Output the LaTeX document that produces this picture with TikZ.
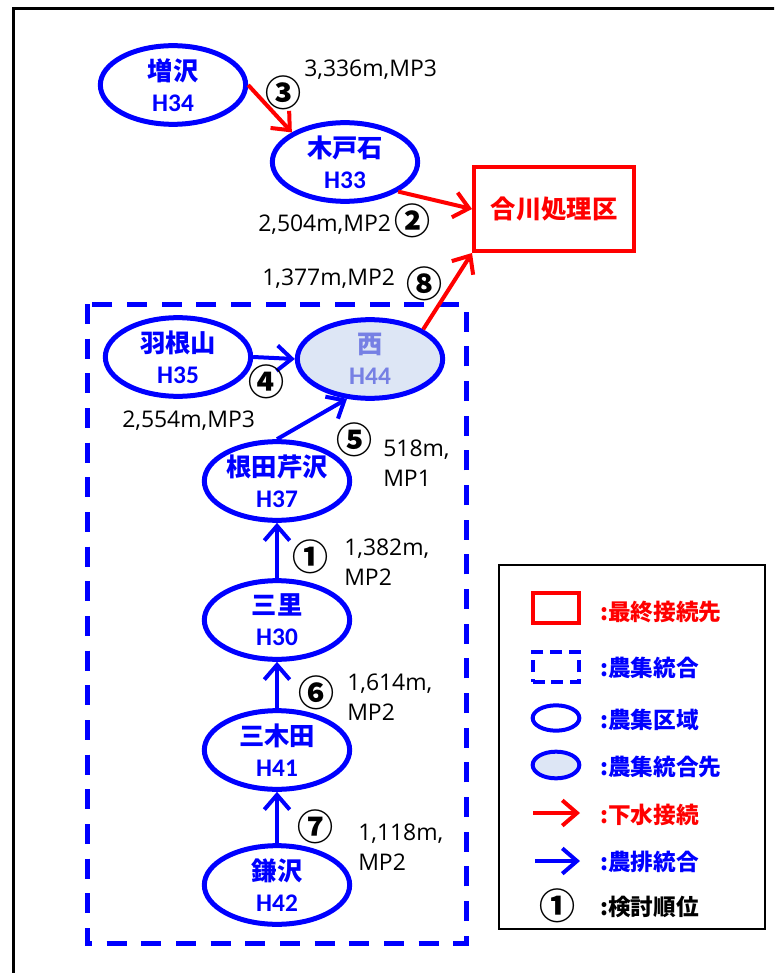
\documentclass[tikz,border=0pt]{standalone}
\usepackage{fontspec}
\setmainfont{Open Sans}
\newfontfamily\jpfont{Noto Sans CJK JP}
\newfontfamily\hfont{Carlito}
\usepackage{xcolor}
\usetikzlibrary{shapes.geometric,arrows.meta}

\definecolor{nblue}{RGB}{0,0,255}
\definecolor{nred}{RGB}{255,0,0}
\definecolor{nfill}{RGB}{221,230,245}
\definecolor{ntext}{RGB}{118,128,228}
\newcommand{\areaname}[2]{{\jpfont\bfseries #1}\\{\hfont\bfseries #2}}

\begin{document}
\begin{tikzpicture}[x=0.75pt,y=-0.75pt,
                    area/.style={ellipse,draw=nblue,line width=3.75pt,text=nblue,
                    minimum width=109pt,minimum height=59pt,inner sep=0pt,
                    align=center,font=\fontsize{19pt}{23pt}\selectfont},
                    target/.style={area,fill=nfill,text=ntext},
                    sink/.style={rectangle,draw=nred,line width=3pt,text=nred,
                    minimum width=120pt,minimum height=63pt,
                    font=\fontsize{19pt}{23pt}\selectfont\jpfont\bfseries},
                    ring/.style={inner sep=0pt,font=\fontsize{27pt}{28pt}\selectfont\jpfont\bfseries},
                    dist/.style={anchor=west,inner sep=0pt,align=left,
                    font=\fontsize{17.2pt}{22.5pt}\selectfont},
                    sew/.style={draw=nred,line width=3pt,
                    -{Straight Barb[length=11pt,width=19pt]}},
                    agr/.style={draw=nblue,line width=3pt,
                    -{Straight Barb[length=11pt,width=19pt]}},
                    key/.style={anchor=west,inner sep=0pt,
                    font=\fontsize{17pt}{20pt}\selectfont\jpfont\bfseries}]
    \useasboundingbox (0,0) rectangle (774,973);
    \clip (0,0) rectangle (774,973);
    \draw[line width=2.25pt] (13,9) rectangle (800,1000);

    % areas
    \node[area] (masu)   at (173,85)  {\areaname{増沢}{H34}};
    \node[area] (kido)   at (345,162) {\areaname{木戸石}{H33}};
    \node[sink] (gokawa) at (554,209) {合川処理区};
    \node[area] (hane)   at (178,357) {\areaname{羽根山}{H35}};
    \node[target] (nishi) at (370,359) {\areaname{西}{H44}};
    \node[area] (nese)   at (277,481) {\areaname{根田芹沢}{H37}};
    \node[area] (misato) at (277,620) {\areaname{三里}{H30}};
    \node[area] (mikida) at (277,750) {\areaname{三木田}{H41}};
    \node[area] (kama)   at (277,885) {\areaname{鎌沢}{H42}};

    \draw[nblue,line width=3.75pt,dash pattern=on 15pt off 11pt] (87,304) rectangle (466,943);

    % connections
    \draw[sew] (masu.east) -- (kido.north west);
    \draw[sew] (kido.south east) -- (gokawa.west);
    \draw[sew] (nishi.north east) -- (gokawa.south west);
    \draw[agr] (hane.east) -- (nishi.west);
    \draw[agr] (nese.north) -- (nishi.240);
    \draw[agr] (misato.north) -- (nese.south);
    \draw[agr] (mikida.north) -- (misato.south);
    \draw[agr] (kama.north) -- (mikida.south);

    % order and length
    \node[ring] (r3) at (283,93)  {③};
    \node[dist] (d3) at (304,70)  {3,336m,MP3};
    \node[ring] (r2) at (412,221) {②};
    \node[dist] (d2) at (258,225) {2,504m,MP2};
    \node[ring] (r8) at (424,284) {⑧};
    \node[dist] (d8) at (262,279) {1,377m,MP2};
    \node[ring] (r4) at (266,382) {④};
    \node[dist] (d4) at (122,421) {2,554m,MP3};
    \node[ring] (r5) at (354,440) {⑤};
    \node[dist] (d5) at (383,463) {518m,\\MP1};
    \node[ring] (r1) at (310,557) {①};
    \node[dist] (d1) at (344,562) {1,382m,\\MP2};
    \node[ring] (r6) at (316,693) {⑥};
    \node[dist] (d6) at (347,697) {1,614m,\\MP2};
    \node[ring] (r7) at (315,827) {⑦};
    \node[dist] (d7) at (358,847) {1,118m,\\MP2};

    % legend
    \node[draw,line width=1.5pt,minimum width=200pt,minimum height=273pt,inner sep=0pt] (leg) at (632,747) {};
    \node[draw=nred,line width=3pt,minimum width=35pt,minimum height=23pt,inner sep=0pt] (lsink) at (556,608) {};
    \node[key,text=nred] (tsink) at (600,612) {:最終接続先};
    \node[draw=nblue,line width=3pt,dash pattern=on 9pt off 5pt,minimum width=35pt,minimum height=22pt,inner sep=0pt] (lgrp) at (556,667) {};
    \node[key,text=nblue] (tgrp) at (600,668) {:農集統合};
    \node[ellipse,draw=nblue,line width=3pt,minimum width=35pt,minimum height=19pt,inner sep=0pt] (larea) at (556,718) {};
    \node[key,text=nblue] (tarea) at (600,720) {:農集区域};
    \node[ellipse,draw=nblue,fill=nfill,line width=3pt,minimum width=35pt,minimum height=20pt,inner sep=0pt] (ltarget) at (556,765) {};
    \node[key,text=nblue] (ttarget) at (600,767) {:農集統合先};
    \coordinate (lsewa) at (533,813);
    \coordinate (lsewb) at (580,813);
    \draw[sew] (lsewa) -- (lsewb);
    \node[key,text=nred] (tsew) at (600,815) {:下水接続};
    \coordinate (lagra) at (535,861);
    \coordinate (lagrb) at (580,861);
    \draw[agr] (lagra) -- (lagrb);
    \node[key,text=nblue] (tagr) at (600,862) {:農排統合};
    \node[ring] (lring) at (557,906) {①};
    \node[key] (tring) at (600,907) {:検討順位};
\end{tikzpicture}
\end{document}
